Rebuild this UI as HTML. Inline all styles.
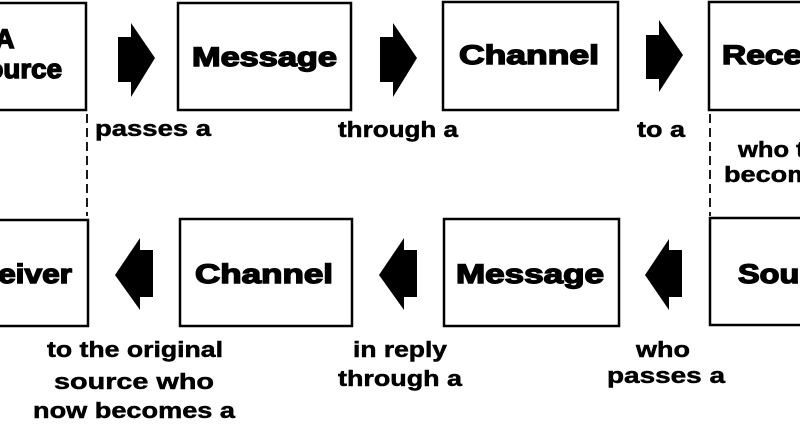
<!DOCTYPE html>
<html><head><meta charset="utf-8"><style>
html,body{margin:0;padding:0;background:#fff;}
svg{display:block;}
.b{font-family:"Liberation Sans",sans-serif;font-weight:bold;font-size:27px;fill:#000;stroke:#000;stroke-width:1.4px;}
.l{font-family:"Liberation Sans",sans-serif;font-weight:bold;font-size:22px;fill:#000;stroke:#000;stroke-width:0.5px;}
</style></head><body>
<svg width="800" height="426" viewBox="0 0 800 426" xmlns="http://www.w3.org/2000/svg">
<g fill="none" stroke="#000" stroke-width="2.5">
<rect x="-10" y="3" width="96" height="107"/>
<rect x="178" y="3" width="173" height="107"/>
<rect x="443" y="2" width="175" height="108"/>
<rect x="709" y="2" width="100" height="108"/>
<rect x="-10" y="220" width="98" height="106"/>
<rect x="180" y="219" width="172" height="107"/>
<rect x="444" y="219" width="175" height="107"/>
<rect x="710" y="218" width="100" height="107"/>
</g>
<g stroke="#000" stroke-width="1.8" stroke-dasharray="9,5">
<line x1="87" y1="114" x2="87" y2="216"/>
<line x1="710" y1="114" x2="710" y2="216"/>
</g>
<g fill="#000">
<path d="M118 37H131V23L155 58L131 97V82H118Z"/>
<path d="M380 37H393V23L417 58L393 97V82H380Z"/>
<path d="M646 35H659V20L683 55L659 92V79H646Z"/>
<path d="M153 250H140V238L115 275L140 310V297H153Z"/>
<path d="M417 250H404V238L379 275L404 310V297H417Z"/>
<path d="M682 250H669V239L645 275L669 310V297H682Z"/>
</g>
<text class="b" x="-5" y="48">A</text>
<text class="b" x="-32" y="78" textLength="94" lengthAdjust="spacingAndGlyphs">Source</text>
<text class="b" x="192" y="66" textLength="145" lengthAdjust="spacingAndGlyphs">Message</text>
<text class="b" x="459" y="64" textLength="140" lengthAdjust="spacingAndGlyphs">Channel</text>
<text class="b" x="722" y="64" textLength="140" lengthAdjust="spacingAndGlyphs">Receiver</text>
<text class="b" x="-60" y="283" textLength="132" lengthAdjust="spacingAndGlyphs">Receiver</text>
<text class="b" x="195" y="283" textLength="138" lengthAdjust="spacingAndGlyphs">Channel</text>
<text class="b" x="456" y="283" textLength="148" lengthAdjust="spacingAndGlyphs">Message</text>
<text class="b" x="738" y="283" textLength="110" lengthAdjust="spacingAndGlyphs">Source</text>
<text class="l" x="95" y="136" textLength="116" lengthAdjust="spacingAndGlyphs">passes a</text>
<text class="l" x="338" y="137" textLength="120" lengthAdjust="spacingAndGlyphs">through a</text>
<text class="l" x="637" y="137" textLength="48" lengthAdjust="spacingAndGlyphs">to a</text>
<text class="l" x="738" y="157" textLength="112" lengthAdjust="spacingAndGlyphs">who then</text>
<text class="l" x="724" y="182" textLength="140" lengthAdjust="spacingAndGlyphs">becomes a</text>
<text class="l" x="135" y="357" text-anchor="middle" textLength="176" lengthAdjust="spacingAndGlyphs">to the original</text>
<text class="l" x="134" y="389" text-anchor="middle" textLength="160" lengthAdjust="spacingAndGlyphs">source who</text>
<text class="l" x="134" y="418" text-anchor="middle" textLength="202" lengthAdjust="spacingAndGlyphs">now becomes a</text>
<text class="l" x="400" y="357" text-anchor="middle" textLength="94" lengthAdjust="spacingAndGlyphs">in reply</text>
<text class="l" x="400" y="386" text-anchor="middle" textLength="124" lengthAdjust="spacingAndGlyphs">through a</text>
<text class="l" x="663" y="357" text-anchor="middle" textLength="54" lengthAdjust="spacingAndGlyphs">who</text>
<text class="l" x="666" y="383" text-anchor="middle" textLength="118" lengthAdjust="spacingAndGlyphs">passes a</text>
</svg>
</body></html>
